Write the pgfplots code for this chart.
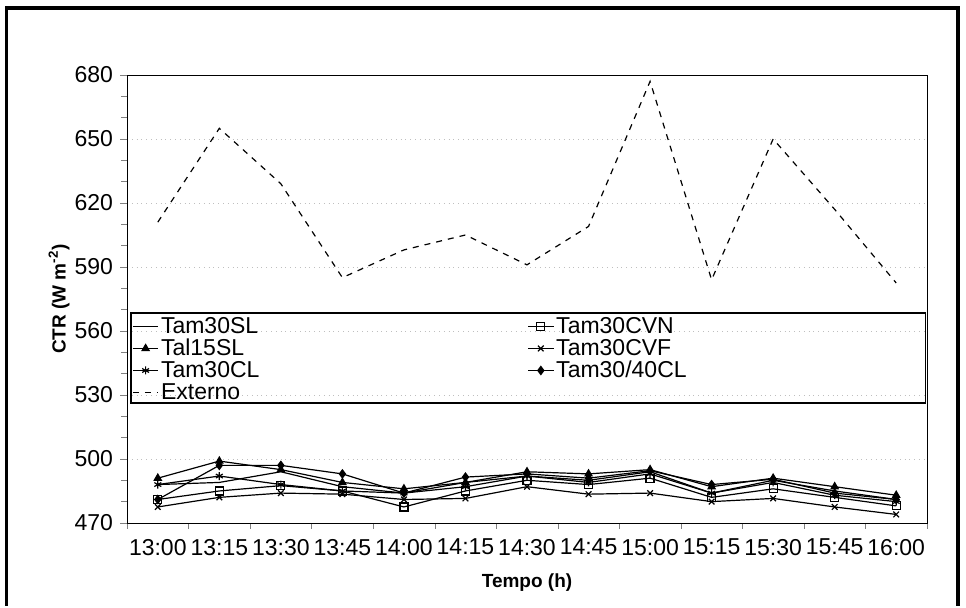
\documentclass[border=0pt]{standalone}
\usepackage{fontspec}
\setmainfont{Liberation Sans}
\usepackage{pgfplots}
\usepackage{pgfplotstable}
\pgfplotsset{compat=1.18}

% hour index (0 = 13:00 ... 12 = 16:00)
\pgfplotstableread{
x  SL   Tal  CL   CVN   CVF   CL40  Ext
0  488  491  488  481   477.5 481   611
1  489  499  492  485   482   497   655
2  494  495  488  487.5 484   497   629
3  487  489  485  485   483.5 493   585
4  484  486  484  477.5 481   484   598
5  489  489  487  485   481.5 491.5 605
6  492  494  492  490   487   493   591
7  490  493  489  488   483.5 491   609
8  494  495  493  491   484   494.5 677
9  484  487  484  482   480   488   584
10 490  491  489  486   481.5 490.5 650
11 485  487  483  482   477.5 484   617
12 481  483  480  478   474   481   582.5
}\ctr

\begin{document}
\begin{tikzpicture}
\begin{axis}[
    scale only axis,
    width=400pt, height=224pt,
    xmin=-0.5, xmax=12.5,
    ymin=470, ymax=680,
    ytick={470,500,...,680},
    minor y tick num=2,
    xtick={0,...,12},
    xticklabels={13:00,13:15,13:30,13:45,14:00,14:15,14:30,14:45,15:00,15:15,15:30,15:45,16:00},
    minor xtick={-0.5,0.5,...,12.5},
    major x tick style={draw=none},
    tick align=outside,
    tick pos=left,
    major tick length=3.5pt,
    minor tick length=3pt,
    ymajorgrids,
    major grid style={gray!50, dotted},
    axis line style={black},
    every x tick label/.append style={font=\fontsize{11.5}{13}\selectfont, yshift=-1pt},
    every y tick label/.append style={font=\fontsize{11.5}{13}\selectfont},
    /pgf/number format/assume math mode=true,
    xlabel={\textbf{Tempo (h)}},
    ylabel={\textbf{CTR (W m\textsuperscript{-2})}},
    xlabel style={font=\fontsize{9.5}{12}\selectfont, at={(rel axis cs:0.5,-0.134)}, anchor=center},
    ylabel style={font=\fontsize{9.5}{12}\selectfont, at={(rel axis cs:-0.085,0.5)}, anchor=center},
    clip=false,
    legend columns=2,
    legend cell align=left,
    legend image code/.code={\draw[mark repeat=2, mark phase=2]
        plot coordinates {(0cm,0cm) (0.225cm,0cm) (0.45cm,0cm)};},
    legend style={draw=none, fill=none, inner sep=0pt,
        at={(rel axis cs:0.006,0.464)}, anchor=north west,
        font=\fontsize{11.5}{13}\selectfont,
        nodes={inner sep=1pt, text height=8pt, text depth=1pt},
        /tikz/every even column/.append style={column sep=133pt}},
    every axis plot/.append style={black, line width=0.6pt, mark size=2pt},
]
\addplot[no marks] table[x=x, y=SL] {\ctr};
\addlegendentry{Tam30SL}
\addplot[mark=square, mark options={fill=white, solid}] table[x=x, y=CVN] {\ctr};
\addlegendentry{Tam30CVN}
\addplot[mark=triangle*, mark options={solid}] table[x=x, y=Tal] {\ctr};
\addlegendentry{Tal15SL}
\addplot[mark=x, mark options={solid}] table[x=x, y=CVF] {\ctr};
\addlegendentry{Tam30CVF}
\addplot[mark=asterisk, mark options={solid}] table[x=x, y=CL] {\ctr};
\addlegendentry{Tam30CL}
\addplot[mark=diamond*, mark options={solid}] table[x=x, y=CL40] {\ctr};
\addlegendentry{Tam30/40CL}
\addplot[no marks, dashed] table[x=x, y=Ext] {\ctr};
\addlegendentry{Externo}

% legend frame
\draw[black, line width=0.8pt] (rel axis cs:0.005,0.469) rectangle (rel axis cs:0.998,0.268);
% outer frame of the figure, cut at the bottom edge
\path (rel axis cs:-0.1588,-0.1853) rectangle (rel axis cs:1.0488,1.1674);
\draw[black, line width=1.6pt] (rel axis cs:-0.1506,-0.1853) -- (rel axis cs:-0.1506,1.1496)
    -- (rel axis cs:1.0388,1.1496) -- (rel axis cs:1.0388,-0.1853);
\end{axis}
\end{tikzpicture}
\end{document}
